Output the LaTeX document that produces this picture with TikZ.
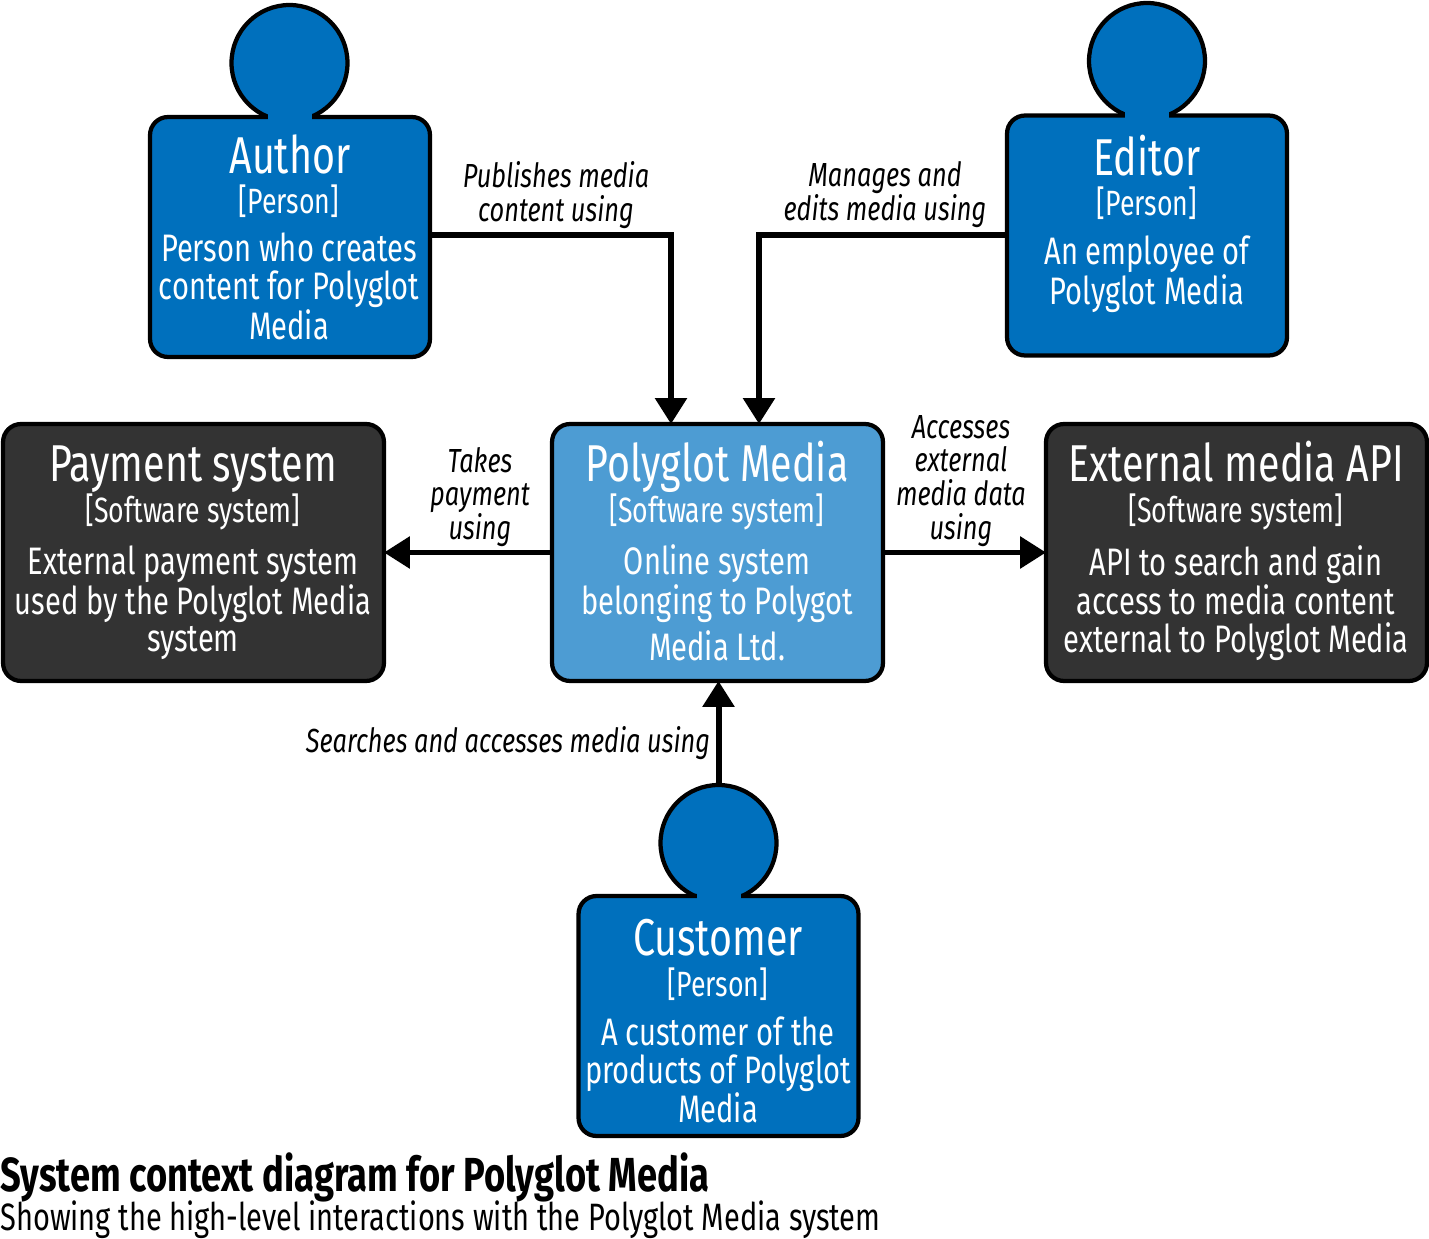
\documentclass[tikz,border=0pt]{standalone}
\usepackage{fontspec}
\setmainfont[FakeStretch=0.76]{Fira Sans}
\usetikzlibrary{arrows.meta,calc}
\definecolor{personblue}{HTML}{0070BD}
\definecolor{mainblue}{HTML}{4D9CD3}
\definecolor{extgrey}{HTML}{333333}
\tikzset{
  boxbase/.style={draw=black,line width=0.085cm,rounded corners=0.36cm,outer sep=0pt,inner sep=0pt},
  boxperson/.style={boxbase,fill=personblue,minimum width=5.6cm,minimum height=4.8cm},
  boxext/.style={boxbase,fill=extgrey,minimum width=7.62cm,minimum height=5.14cm},
  boxmain/.style={boxbase,fill=mainblue,minimum width=6.62cm,minimum height=5.14cm},
  head/.style={circle,draw=black,line width=0.085cm,fill=personblue,minimum size=2.32cm,outer sep=0pt,inner sep=0pt},
  titletext/.style={anchor=base,text=white,inner sep=0pt,font=\fontsize{29.5}{32}\selectfont},
  tagtext/.style={anchor=base,text=white,inner sep=0pt,font=\fontsize{20}{22}\selectfont},
  desctext/.style={text=white,align=center,inner sep=0pt,font=\fontsize{21.8}{21.4}\selectfont},
  reltext/.style={align=center,inner sep=0pt,font=\fontsize{19}{19.3}\selectfont\itshape},
  rel/.style={line width=0.12cm,-{Triangle[width=0.62cm,length=0.52cm]}},
}
\begin{document}
\begin{tikzpicture}[x=0.02cm,y=-0.02cm]
\useasboundingbox (0,0) rectangle (1429,1239);

\coordinate (authout) at (430,235);
\coordinate (editout) at (1007,235);
\coordinate (polyinl) at (671,424);
\coordinate (polyinr) at (759,424);

\node[head] (authhead) at (289.5,63) {};
\node[head] (edithead) at (1147,61) {};
\node[head] (custhead) at (718.5,843) {};

\node[boxperson] (auth) at (290,237) {};
\node[boxperson] (edit) at (1147,235.5) {};
\node[boxperson] (cust) at (718.5,1016) {};
\node[boxext] (pay) at (193.5,552.5) {};
\node[boxmain] (poly) at (717.5,552.5) {};
\node[boxext] (ext) at (1236.5,552.5) {};

% necks
\foreach \p in {authhead,edithead,custhead}
  \fill[personblue] ($(\p.south)+(-22,-14)$) rectangle ($(\p.south)+(22,2)$);

\draw[rel] (authout) -| (polyinl);
\draw[rel] (editout) -| (polyinr);
\draw[rel] (poly.west) -- (pay.east);
\draw[rel] (poly.east) -- (ext.west);
\draw[rel] (custhead.north) -- (custhead.north |- poly.south);

\node[titletext] (authtitle) at (290,174) {Author};
\node[tagtext] (authtag) at (289,214) {[Person]};
\node[desctext] (authdesc) at (289,286.5) {Person who creates\\content for Polyglot\\Media};

\node[titletext] (edittitle) at (1147,176) {Editor};
\node[tagtext] (edittag) at (1147,216) {[Person]};
\node[desctext] (editdesc) at (1147,274) {An employee of\\Polyglot Media};

\node[titletext] (custtitle) at (718,955) {Customer};
\node[tagtext] (custtag) at (718,996) {[Person]};
\node[desctext] (custdesc) at (718,1070) {A customer of the\\products of Polyglot\\Media};

\node[titletext] (paytitle) at (193,482) {Payment system};
\node[tagtext] (paytag) at (193,522) {[Software system]};
\node[desctext] (paydesc) at (193,603) {External payment system\\used by the Polyglot Media\\system};

\node[titletext] (polytitle) at (717,482) {Polyglot Media};
\node[tagtext] (polytag) at (717,522) {[Software system]};
\node[desctext] (polydesc) at (717,603) {Online system\\belonging to Polygot\\[0.14cm]Media Ltd.};

\node[titletext] (exttitle) at (1236,482) {External media API};
\node[tagtext] (exttag) at (1236,522) {[Software system]};
\node[desctext] (extdesc) at (1236,603) {API to search and gain\\access to media content\\external to Polyglot Media};

\node[reltext] (publabel) at (556,195) {Publishes media\\content using};
\node[reltext] (manlabel) at (885,195) {Manages and\\edits media using};
\node[reltext] (takelabel) at (480,497) {Takes\\payment\\using};
\node[reltext] (acclabel) at (961,481) {Accesses\\external\\media data\\using};
\node[reltext] (searchlabel) at (508,743) {Searches and accesses media using};

\node[anchor=west,inner sep=0pt,font=\fontsize{27.2}{28}\selectfont\bfseries] (captitle) at (0,1177) {System context diagram for Polyglot Media};
\node[anchor=west,inner sep=0pt,font=\fontsize{21.7}{23}\selectfont] (capsub) at (0,1220) {Showing the high-level interactions with the Polyglot Media system};
\end{tikzpicture}
\end{document}
